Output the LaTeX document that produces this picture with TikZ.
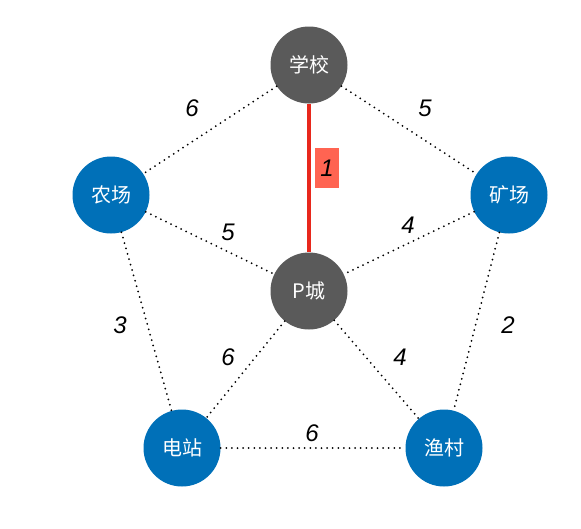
\documentclass[tikz,border=0pt]{standalone}
\usepackage{fontspec}
\setmainfont{Liberation Sans}
\newfontfamily\cjkfont{Noto Sans CJK SC}
\usepackage{xcolor}
\usetikzlibrary{positioning}

\definecolor{towngray}{HTML}{5A5A5A}
\definecolor{siteblue}{HTML}{0070B8}
\definecolor{pathred}{HTML}{E8281C}
\definecolor{boxred}{HTML}{FF6452}

\tikzset{
    place/.style={circle,minimum size=77pt,inner sep=0pt,text=white,font=\cjkfont\fontsize{20}{20}\selectfont},
    gplace/.style={place,fill=towngray},
    bplace/.style={place,fill=siteblue},
    road/.style={line width=2pt,dash pattern=on 0pt off 5.6pt,line cap=round},
    mainroad/.style={line width=3.8pt,pathred},
    weight/.style={font=\itshape\fontsize{24}{24}\selectfont,inner sep=0pt},
    redbox/.style={weight,fill=boxred,minimum width=24pt,minimum height=40pt}
}

\begin{document}
\begin{tikzpicture}[x=1pt,y=-1pt]
        \useasboundingbox (0,0) rectangle (581,528);
        % places
        \node[gplace] (school) at (309,65) {学校};
        \node[bplace] (farm) at (111,195) {农场};
        \node[bplace] (mine) at (509,195) {矿场};
        \node[gplace] (town) at (309,291) {P城};
        \node[bplace] (plant) at (182,448) {电站};
        \node[bplace] (village) at (444,448) {渔村};
        % roads
        \draw[road] (school) -- (farm);
        \draw[road] (school) -- (mine);
        \draw[road] (farm) -- (town);
        \draw[road] (mine) -- (town);
        \draw[road] (farm) -- (plant);
        \draw[road] (mine) -- (village);
        \draw[road] (town) -- (plant);
        \draw[road] (town) -- (village);
        \draw[road] (plant) -- (village);
        \draw[mainroad] (school) -- (town);
        % weights
        \node[weight] (w-sf) at (192,108) {6};
        \node[weight] (w-sm) at (425,108) {5};
        \node[redbox] (w-st) at (327,168) {1};
        \node[weight] (w-ft) at (228,232) {5};
        \node[weight] (w-mt) at (408,225) {4};
        \node[weight] (w-fp) at (120,325) {3};
        \node[weight] (w-mv) at (508,325) {2};
        \node[weight] (w-tp) at (228,357) {6};
        \node[weight] (w-tv) at (400,357) {4};
        \node[weight] (w-pv) at (312,433) {6};
    \end{tikzpicture}
\end{document}
